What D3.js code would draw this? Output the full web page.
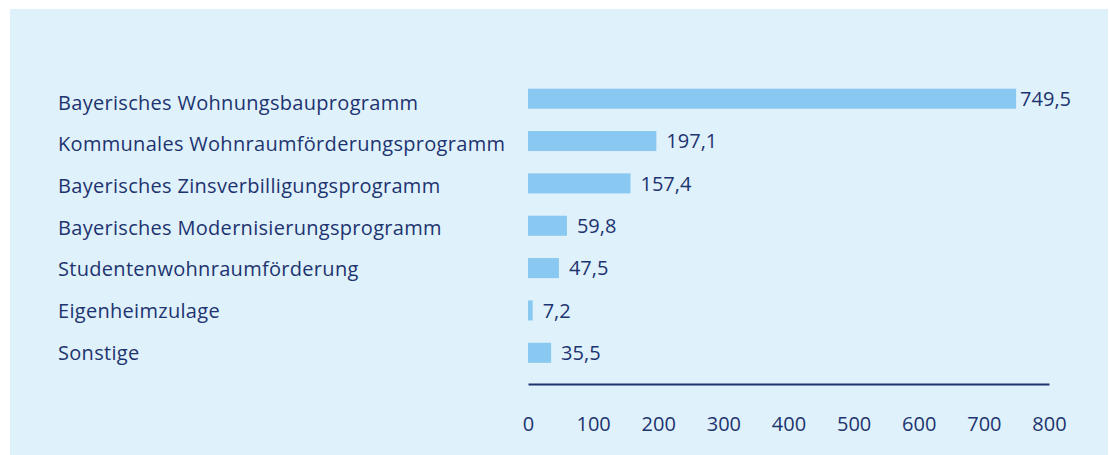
<!DOCTYPE html>
<html>
<head>
<meta charset="utf-8">
<script src="https://cdn.jsdelivr.net/npm/d3@7"></script>
<style>
  body { margin: 0; background: #fff; }
  svg text { font-family: "Open Sans", "Noto Sans", sans-serif; fill: #1d3470; }
</style>
</head>
<body>
<svg id="chart" width="1109" height="455"></svg>
<script>
// Förderprogramme, Mio. Euro
var categories = [
  'Bayerisches Wohnungsbauprogramm',
  'Kommunales Wohnraumförderungsprogramm',
  'Bayerisches Zinsverbilligungsprogramm',
  'Bayerisches Modernisierungsprogramm',
  'Studentenwohnraumförderung',
  'Eigenheimzulage',
  'Sonstige'
];
var values = [749.5, 197.1, 157.4, 59.8, 47.5, 7.2, 35.5];
var ticks = [0, 100, 200, 300, 400, 500, 600, 700, 800];

var svg = d3.select('#chart');
var W = 1109, H = 455;

// light blue panel
svg.append('rect')
  .attr('x', 10).attr('y', 9)
  .attr('width', W - 11).attr('height', H - 9)
  .attr('fill', '#dff1fa');

var x = d3.scaleLinear().domain([0, 800]).range([528, 1049]);
var y = d3.scaleBand().domain(categories).range([77.5, 374]).paddingInner(0.527).paddingOuter(0.264);
// the category labels sit on a slightly different grid than the bars
var yLab = d3.scalePoint().domain(categories).range([102.5, 352.5]);

var fmt = function (v) { return d3.format('.1f')(v).replace('.', ','); };

// category labels
svg.selectAll('.cat')
  .data(categories)
  .enter().append('text')
  .attr('class', 'cat')
  .attr('x', 58)
  .attr('y', function (d) { return yLab(d); })
  .attr('dy', '0.36em')
  .style('font-size', '20px')
  .style('letter-spacing', '0.3px')
  .text(function (d) { return d; });

// bars
svg.selectAll('.bar')
  .data(values)
  .enter().append('rect')
  .attr('class', 'bar')
  .attr('x', x(0))
  .attr('y', function (d, i) { return y(categories[i]); })
  .attr('width', function (d) { return Math.max(1.5, x(d) - x(0)); })
  .attr('height', y.bandwidth())
  .attr('fill', '#89c8f0');

// value labels
svg.selectAll('.val')
  .data(values)
  .enter().append('text')
  .attr('class', 'val')
  .attr('x', function (d) {
    // big bar: label sits closer to the end
    return x(d) + (x(d) > 1000 ? 4 : 10);
  })
  .attr('y', function (d, i) { return y(categories[i]) + y.bandwidth() / 2; })
  .attr('dy', '0.36em')
  .style('font-size', '20px')
  .text(fmt);

// x axis
var axis = svg.append('g')
  .attr('transform', 'translate(0,384)')
  .call(d3.axisBottom(x).tickValues(ticks).tickSize(0).tickPadding(33));
axis.select('.domain').attr('stroke', '#1d3470').attr('stroke-width', 2);
axis.selectAll('text')
  .style('font-size', '20px')
  .style('font-family', '"Open Sans", "Noto Sans", sans-serif')
  .attr('fill', '#1d3470');
</script>
</body>
</html>
